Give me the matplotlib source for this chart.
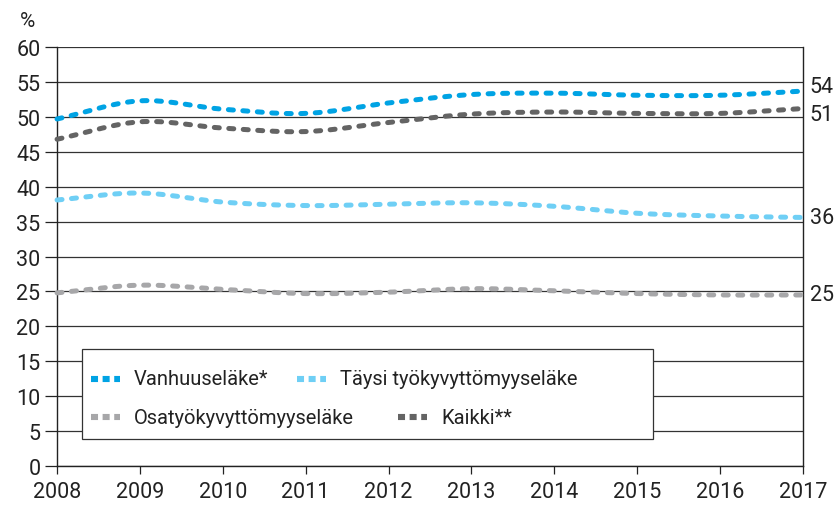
import numpy as np
import matplotlib
matplotlib.use("Agg")
import matplotlib.pyplot as plt
from matplotlib.patches import Rectangle

plt.rcParams['font.family'] = ['Roboto', 'DejaVu Sans']

# --- Data ---
years = [2008, 2009, 2010, 2011, 2012, 2013, 2014, 2015, 2016, 2017]
vanhuus = [49.7, 52.3, 51.1, 50.5, 52.0, 53.2, 53.4, 53.1, 53.1, 53.7]
taysi = [38.1, 39.1, 37.8, 37.3, 37.5, 37.7, 37.2, 36.2, 35.8, 35.6]
osa = [24.8, 25.9, 25.3, 24.7, 24.9, 25.4, 25.1, 24.7, 24.5, 24.5]
kaikki = [46.8, 49.3, 48.4, 47.9, 49.2, 50.4, 50.7, 50.5, 50.5, 51.2]
end_labels = ["54", "36", "25", "51"]
label_shift = [3, 0, 0, -4]   # pt, jotta 54 ja 51 eivät mene päällekkäin

names = ["Vanhuuseläke*", "Täysi työkyvyttömyyseläke", "Osatyökyvyttömyyseläke", "Kaikki**"]
colors = ["#00a3e4", "#6fcff5", "#a7a7a9", "#646464"]
series = [vanhuus, taysi, osa, kaikki]

# selitteen paikat (akselikoordinaatit): handlen vasen reuna, rivin y
leg_pos = [(0.045, 0.208), (0.322, 0.208), (0.045, 0.117), (0.457, 0.117)]


def smooth(x, y, n=20):
    # Catmull-Rom: pehmeä käyrä pisteiden läpi
    x = np.asarray(x, float)
    y = np.asarray(y, float)
    px = np.concatenate([[2 * x[0] - x[1]], x, [2 * x[-1] - x[-2]]])
    py = np.concatenate([[2 * y[0] - y[1]], y, [2 * y[-1] - y[-2]]])
    xs, ys = [], []
    t = np.linspace(0, 1, n, endpoint=False)
    for i in range(1, len(px) - 2):
        for p, out in ((px, xs), (py, ys)):
            p0, p1, p2, p3 = p[i - 1], p[i], p[i + 1], p[i + 2]
            out.extend(0.5 * (2 * p1 + (-p0 + p2) * t + (2 * p0 - 5 * p1 + 4 * p2 - p3) * t**2
                              + (-p0 + 3 * p1 - 3 * p2 + p3) * t**3))
    xs.append(x[-1])
    ys.append(y[-1])
    return np.array(xs), np.array(ys)


fig = plt.figure(figsize=(8.39, 5.06), dpi=100)
ax = fig.add_axes([0.068, 0.077, 0.889, 0.828])

ax.set_ylim(0, 60)
ax.set_xlim(2008, 2017)
ax.set_yticks(range(0, 61, 5))
ax.set_xticks(years)
ax.yaxis.grid(True, color="#333333", linewidth=0.9)
ax.set_axisbelow(True)

ax.spines["top"].set_visible(False)
for s in ["left", "right", "bottom"]:
    ax.spines[s].set_color("#222222")
    ax.spines[s].set_linewidth(1.0)

ax.tick_params(axis="y", length=9, width=0.9, color="#222222", labelsize=15.5, pad=3,
               labelcolor="#222222")
ax.tick_params(axis="x", length=6, width=0.9, color="#222222", labelsize=15.5, pad=5,
               labelcolor="#222222")
ax.tick_params(right=False)

for name, col, vals in zip(names, colors, series):
    sx, sy = smooth(years, vals)
    ax.plot(sx, sy, color=col, linewidth=3.6, linestyle=(0, (1.0, 1.9)),
            dash_capstyle="round", clip_on=False, label=name, zorder=3)

for lab, dy, vals in zip(end_labels, label_shift, series):
    ax.annotate(lab, xy=(years[-1], vals[-1]), xytext=(5, dy), textcoords="offset points",
                va="center", ha="left", fontsize=15.5, color="#222222", annotation_clip=False)

ax.text(-0.04, 1.04, "%", transform=ax.transAxes, fontsize=15, color="#222222",
        ha="center", va="bottom")

# --- selite: rivit eivät ole sarakkeisiin tasattuja, joten piirretään käsin ---
ax.add_patch(Rectangle((0.0335, 0.0644), 0.7655, 0.2146, transform=ax.transAxes,
                       facecolor="white", edgecolor="#333333", linewidth=0.9, zorder=4))
for name, col, (lx, ly) in zip(names, colors, leg_pos):
    ax.plot([lx, lx + 0.039], [ly, ly], transform=ax.transAxes, color=col, linewidth=4.4,
            linestyle=(0, (1.15, 0.75)), dash_capstyle="butt", zorder=5)
    ax.text(lx + 0.058, ly, name, transform=ax.transAxes, fontsize=14.5, color="#222222",
            va="center", ha="left", zorder=5)

fig.savefig("out.png", dpi=100)
